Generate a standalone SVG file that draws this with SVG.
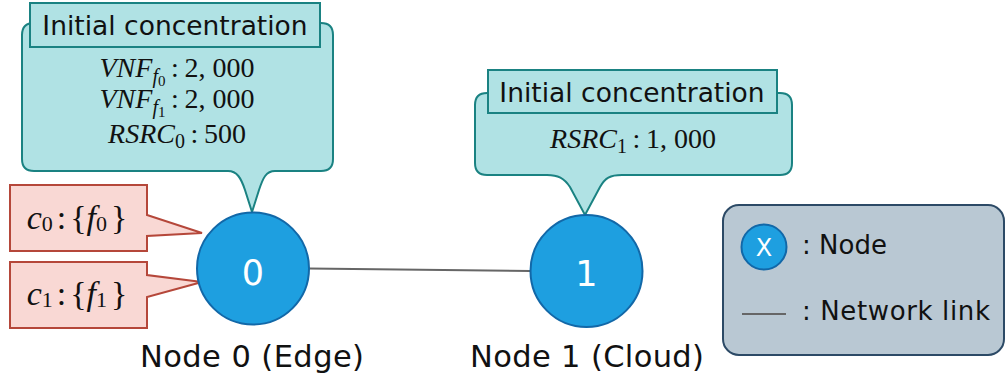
<svg xmlns="http://www.w3.org/2000/svg" width="1006" height="382" viewBox="0 0 1006 382">
  <style>
    .callout { fill: #B0E2E4; stroke: #1A8282; stroke-width: 2; }
    .tag { fill: #F9D8D4; stroke: #B5473A; stroke-width: 2; }
    .node { fill: #1E9FE0; stroke: #1268A8; stroke-width: 2; }
    .link { stroke: #666666; stroke-width: 2; fill: none; }
    .sans { font-family: "DejaVu Sans", Verdana, sans-serif; fill: #111111; }
    .title { font-size: 26.5px; }
    .label { font-size: 30.5px; }
    .num { font-family: "DejaVu Sans", Verdana, sans-serif; fill: #ffffff; font-size: 35px; }
    .math { font-family: "Liberation Serif", "Times New Roman", serif; font-size: 28px; fill: #111111; }
    .big { font-size: 34px; }
    .it { font-style: italic; }
    .legend { fill: #B9C8D3; stroke: #2C4A66; stroke-width: 2; }
  </style>

  <!-- link between the two nodes -->
  <g id="connectors">
    <line class="link" x1="309" y1="268.5" x2="530" y2="271"/>
  </g>

  <!-- callout above node 0 -->
  <g id="callout-0">
    <path class="callout" d="M34,23 H321 Q333,23 333,35 V159 Q333,171 321,171 H275 C266,171 263,178 259,190 L252,212 L245,190 C241,178 237,171 228,171 H34 Q22,171 22,159 V35 Q22,23 34,23 Z"/>
    <rect class="callout" x="30" y="3" width="290" height="44"/>
    <text class="sans title" x="175" y="35" text-anchor="middle">Initial concentration</text>
    <text class="math" x="177" y="77" text-anchor="middle"><tspan class="it">VNF</tspan><tspan class="it" font-size="20" dy="6">f</tspan><tspan font-size="15" dy="3">0</tspan><tspan dy="-9">&#8201;:&#8201;2, 000</tspan></text>
    <text class="math" x="177" y="108" text-anchor="middle"><tspan class="it">VNF</tspan><tspan class="it" font-size="20" dy="6">f</tspan><tspan font-size="15" dy="3">1</tspan><tspan dy="-9">&#8201;:&#8201;2, 000</tspan></text>
    <text class="math" x="177" y="143" text-anchor="middle"><tspan class="it">RSRC</tspan><tspan font-size="20" dy="5">0</tspan><tspan dy="-5">&#8201;:&#8201;500</tspan></text>
  </g>

  <!-- callout above node 1 -->
  <g id="callout-1">
    <path class="callout" d="M487,93 H780 Q792,93 792,105 V163 Q792,175 780,175 H622 C610,175 605,178 600,187 L585,215 L570,187 C564,178 558,175 547,175 H487 Q475,175 475,163 V105 Q475,93 487,93 Z"/>
    <rect class="callout" x="488" y="70" width="289" height="43"/>
    <text class="sans title" x="632" y="101.5" text-anchor="middle">Initial concentration</text>
    <text class="math" x="633" y="148" text-anchor="middle"><tspan class="it">RSRC</tspan><tspan font-size="20" dy="5">1</tspan><tspan dy="-5">&#8201;:&#8201;1, 000</tspan></text>
  </g>

  <!-- content tags pointing at node 0 -->
  <g id="tag-c0">
    <path class="tag" d="M10,185 H147 V215 L202,233 L147,236 V251 H10 Z"/>
    <text class="math big" x="77" y="229" text-anchor="middle"><tspan class="it">c</tspan><tspan font-size="22" dy="2">0</tspan><tspan dx="4" dy="-2">:</tspan><tspan dx="4">{</tspan><tspan class="it">f</tspan><tspan font-size="22" dy="2">0</tspan><tspan dx="4" dy="-2">}</tspan></text>
  </g>
  <g id="tag-c1">
    <path class="tag" d="M10,262 H147 V275 L202,282 L147,297 V328 H10 Z"/>
    <text class="math big" x="77" y="305" text-anchor="middle"><tspan class="it">c</tspan><tspan font-size="22" dy="2">1</tspan><tspan dx="4" dy="-2">:</tspan><tspan dx="4">{</tspan><tspan class="it">f</tspan><tspan font-size="22" dy="2">1</tspan><tspan dx="4" dy="-2">}</tspan></text>
  </g>

  <!-- nodes -->
  <g id="node-0">
    <circle class="node" cx="253" cy="268.5" r="56"/>
    <text class="num" x="253" y="285" text-anchor="middle">0</text>
    <text class="sans label" x="252" y="367" text-anchor="middle" textLength="224" lengthAdjust="spacing">Node 0 (Edge)</text>
  </g>
  <g id="node-1">
    <circle class="node" cx="586.5" cy="271" r="56"/>
    <text class="num" x="586.5" y="286" text-anchor="middle">1</text>
    <text class="sans label" x="587" y="367" text-anchor="middle" textLength="234" lengthAdjust="spacing">Node 1 (Cloud)</text>
  </g>

  <!-- legend -->
  <g id="legend">
    <rect class="legend" x="723" y="205" width="281" height="150" rx="16"/>
    <circle class="node" cx="764" cy="247" r="22.5"/>
    <text class="sans" x="764" y="256" text-anchor="middle" font-size="24" style="fill:#ffffff">X</text>
    <text class="sans" x="802" y="254" font-size="26">: Node</text>
    <line class="link" x1="742" y1="314" x2="786" y2="314"/>
    <text class="sans" x="802" y="320" font-size="26" textLength="188" lengthAdjust="spacing">: Network link</text>
  </g>
</svg>
